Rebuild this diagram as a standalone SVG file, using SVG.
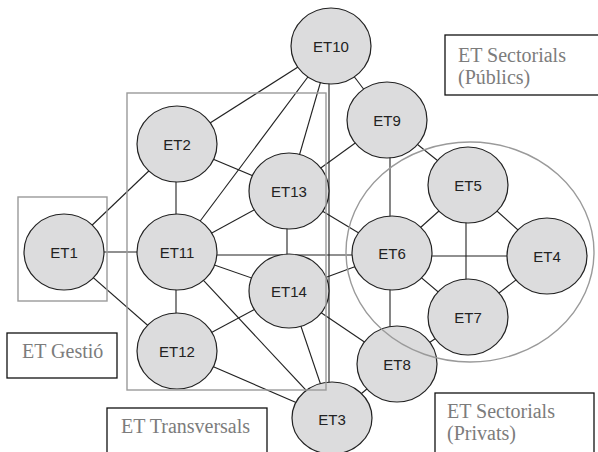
<svg xmlns="http://www.w3.org/2000/svg" width="598" height="452" viewBox="0 0 598 452">
<style>
.node ellipse{fill:#dcdcdd;stroke:#222;stroke-width:1.2}
.node text{font-family:"Liberation Sans",Arial,sans-serif;font-size:15px;fill:#222;text-anchor:middle;dominant-baseline:central}
.edges line{stroke:#222;stroke-width:1.1}
.group{fill:none;stroke:#9a9a9a;stroke-width:1.4}
.lbl rect{fill:#fff;stroke:#111;stroke-width:1.3}
.lbl text{font-family:"Liberation Serif","Times New Roman",serif;font-size:20px;fill:#7c7c7c}
</style>
<rect width="598" height="452" fill="#fff"/>
<g id="connectors" class="edges">
<line x1="331" y1="46" x2="177" y2="144"/>
<line x1="331" y1="46" x2="177" y2="252"/>
<line x1="331" y1="46" x2="289" y2="191"/>
<line x1="329" y1="80" x2="329" y2="384"/>
<line x1="331" y1="46" x2="387" y2="120"/>
<line x1="177" y1="144" x2="64" y2="252"/>
<line x1="177" y1="144" x2="289" y2="191"/>
<line x1="176" y1="144" x2="176" y2="252"/>
<line x1="64" y1="252" x2="177" y2="252"/>
<line x1="64" y1="252" x2="177" y2="351"/>
<line x1="176" y1="252" x2="176" y2="351"/>
<line x1="177" y1="252" x2="289" y2="191"/>
<line x1="200" y1="255" x2="370" y2="255"/>
<line x1="177" y1="252" x2="289" y2="291"/>
<line x1="177" y1="252" x2="332" y2="418"/>
<line x1="177" y1="351" x2="289" y2="291"/>
<line x1="177" y1="351" x2="332" y2="418"/>
<line x1="287" y1="191" x2="287" y2="291"/>
<line x1="289" y1="191" x2="387" y2="120"/>
<line x1="289" y1="191" x2="392" y2="253"/>
<line x1="289" y1="291" x2="392" y2="253"/>
<line x1="289" y1="291" x2="332" y2="418"/>
<line x1="289" y1="291" x2="397" y2="364"/>
<line x1="390" y1="120" x2="390" y2="253"/>
<line x1="387" y1="120" x2="468" y2="185"/>
<line x1="468" y1="185" x2="392" y2="253"/>
<line x1="466" y1="185" x2="466" y2="317"/>
<line x1="468" y1="185" x2="547" y2="256"/>
<line x1="392" y1="256" x2="547" y2="256"/>
<line x1="392" y1="253" x2="468" y2="317"/>
<line x1="390" y1="253" x2="390" y2="364"/>
<line x1="468" y1="317" x2="547" y2="256"/>
<line x1="468" y1="317" x2="397" y2="364"/>
<line x1="397" y1="364" x2="332" y2="418"/>
</g>
<g id="ET1" class="node"><ellipse cx="64" cy="252" rx="40" ry="38"/><text x="64" y="252">ET1</text></g>
<g id="ET2" class="node"><ellipse cx="177" cy="144" rx="40" ry="38"/><text x="177" y="144">ET2</text></g>
<g id="ET3" class="node"><ellipse cx="332" cy="418" rx="40" ry="36"/><text x="332" y="419">ET3</text></g>
<g id="ET4" class="node"><ellipse cx="547" cy="256" rx="40" ry="38"/><text x="547" y="256">ET4</text></g>
<g id="ET5" class="node"><ellipse cx="468" cy="185" rx="40" ry="38"/><text x="468" y="185">ET5</text></g>
<g id="ET6" class="node"><ellipse cx="392" cy="253" rx="40" ry="37"/><text x="392" y="253">ET6</text></g>
<g id="ET7" class="node"><ellipse cx="468" cy="317" rx="40" ry="38"/><text x="468" y="317">ET7</text></g>
<g id="ET8" class="node"><ellipse cx="397" cy="364" rx="40" ry="38"/><text x="397" y="364">ET8</text></g>
<g id="ET9" class="node"><ellipse cx="387" cy="120" rx="40" ry="38"/><text x="387" y="120">ET9</text></g>
<g id="ET10" class="node"><ellipse cx="331" cy="46" rx="40" ry="38"/><text x="331" y="46">ET10</text></g>
<g id="ET11" class="node"><ellipse cx="177" cy="252" rx="40" ry="38"/><text x="177" y="252">ET11</text></g>
<g id="ET12" class="node"><ellipse cx="177" cy="351" rx="40" ry="38"/><text x="177" y="351">ET12</text></g>
<g id="ET13" class="node"><ellipse cx="289" cy="191" rx="40" ry="38"/><text x="289" y="191">ET13</text></g>
<g id="ET14" class="node"><ellipse cx="289" cy="291" rx="40" ry="37"/><text x="289" y="291">ET14</text></g>
<g id="groups">
<rect class="group" x="18" y="197" width="89" height="104"/>
<rect class="group" x="127" y="93" width="199" height="297"/>
<ellipse class="group" cx="470" cy="252" rx="124" ry="110"/>
</g>
<g id="label-publics" class="lbl"><rect x="445" y="35" width="160" height="60"/><text x="458" y="62">ET Sectorials</text><text x="458" y="84">(Públics)</text></g>
<g id="label-gestio" class="lbl"><rect x="7" y="333" width="110" height="45"/><text x="22" y="358">ET Gestió</text></g>
<g id="label-transversals" class="lbl"><rect x="107" y="408" width="160" height="50"/><text x="121" y="433">ET Transversals</text></g>
<g id="label-privats" class="lbl"><rect x="435" y="393" width="159" height="65"/><text x="447" y="418">ET Sectorials</text><text x="447" y="440">(Privats)</text></g>
</svg>
